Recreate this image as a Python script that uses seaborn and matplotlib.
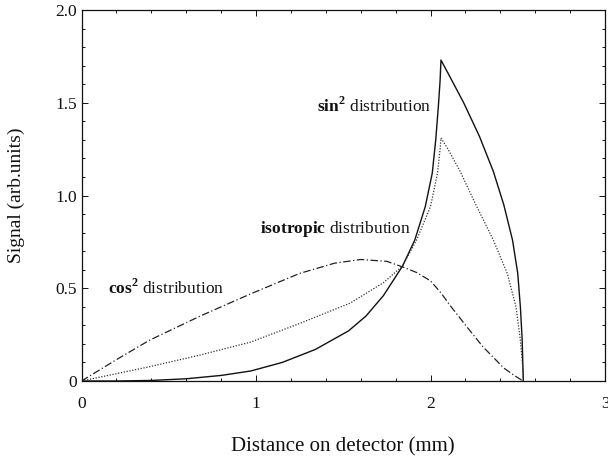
import matplotlib
matplotlib.use("Agg")
import matplotlib.pyplot as plt
import seaborn as sns
import pandas as pd
from matplotlib.ticker import MultipleLocator, FixedLocator, FixedFormatter

# ---- data ----
sin2_x = [0, 0.2, 0.4, 0.6, 0.8, 0.97, 1.15, 1.34, 1.53, 1.63, 1.73, 1.84, 1.91,
          1.97, 2.01, 2.03, 2.045, 2.055, 2.06, 2.10, 2.19, 2.28, 2.36, 2.42,
          2.47, 2.50, 2.515, 2.525, 2.53, 2.532]
sin2_y = [0, 0.0, 0.003, 0.012, 0.03, 0.054, 0.10, 0.17, 0.27, 0.35, 0.46, 0.62, 0.76,
          0.94, 1.12, 1.30, 1.48, 1.62, 1.73, 1.66, 1.50, 1.32, 1.13, 0.95,
          0.76, 0.58, 0.40, 0.23, 0.06, 0]

iso_x = [0, 0.39, 0.68, 0.97, 1.25, 1.54, 1.73, 1.84, 1.92, 2.0, 2.04, 2.055,
         2.06, 2.10, 2.17, 2.26, 2.36, 2.44, 2.49, 2.515, 2.53, 2.532]
iso_y = [0, 0.077, 0.14, 0.21, 0.31, 0.42, 0.53, 0.62, 0.76, 0.94, 1.12, 1.25,
         1.31, 1.25, 1.13, 0.95, 0.76, 0.58, 0.40, 0.22, 0.06, 0]

cos2_x = [0, 0.2, 0.39, 0.68, 0.97, 1.25, 1.45, 1.6, 1.75, 1.84, 1.92, 2.0, 2.06,
          2.11, 2.21, 2.30, 2.42, 2.48, 2.53]
cos2_y = [0, 0.115, 0.22, 0.35, 0.47, 0.58, 0.635, 0.655, 0.645, 0.615, 0.585, 0.54, 0.475,
          0.41, 0.29, 0.185, 0.07, 0.03, 0]

x_ticks = [0, 1, 2, 3]
x_tick_labels = ["0", "1", "2", "3"]
y_ticks = [0, 0.5, 1.0, 1.5, 2.0]
y_tick_labels = ["0", "0.5", "1.0", "1.5", "2.0"]

x_label = "Distance on detector (mm)"
y_label = "Signal (arb.units)"

# ---- style ----
sns.set_theme(style="ticks")
plt.rcParams["font.family"] = ["Liberation Serif", "DejaVu Serif"]
plt.rcParams["mathtext.fontset"] = "custom"
plt.rcParams["mathtext.rm"] = "Liberation Serif"
plt.rcParams["mathtext.bf"] = "Liberation Serif:bold"

fig = plt.figure(figsize=(6.08, 4.68), dpi=100)
ax = fig.add_axes([81.5 / 608, 87 / 468, (605 - 81.5) / 608, (381 - 10) / 468])

df_sin = pd.DataFrame({"x": sin2_x, "y": sin2_y})
df_iso = pd.DataFrame({"x": iso_x, "y": iso_y})
df_cos = pd.DataFrame({"x": cos2_x, "y": cos2_y})

sns.lineplot(data=df_sin, x="x", y="y", ax=ax, estimator=None, sort=False,
             color="#111111", lw=1.0)
sns.lineplot(data=df_iso, x="x", y="y", ax=ax, estimator=None, sort=False,
             color="#333333", lw=0.9, linestyle=(0, (1, 1.3)))
sns.lineplot(data=df_cos, x="x", y="y", ax=ax, estimator=None, sort=False,
             color="#222222", lw=0.9, linestyle=(0, (6, 2, 1, 2)))

ax.set_xlim(0, 3)
ax.set_ylim(0, 2.0)

ax.xaxis.set_major_locator(FixedLocator(x_ticks))
ax.xaxis.set_major_formatter(FixedFormatter(x_tick_labels))
ax.yaxis.set_major_locator(FixedLocator(y_ticks))
ax.yaxis.set_major_formatter(FixedFormatter(y_tick_labels))
ax.xaxis.set_minor_locator(MultipleLocator(0.2))
ax.yaxis.set_minor_locator(MultipleLocator(0.1))

ax.tick_params(which="both", direction="in", top=True, right=True,
               colors="#111111", width=0.7)
ax.tick_params(which="major", length=4, labelsize=12.5)
ax.tick_params(axis="x", which="major", pad=11)
ax.tick_params(axis="y", which="major", pad=3)
ax.tick_params(which="minor", length=2.5)
for s in ax.spines.values():
    s.set_linewidth(0.9)
    s.set_color("#111111")

ax.set_xlabel(x_label, fontsize=15, color="#111111")
ax.set_ylabel(y_label, fontsize=14, color="#111111")
ax.xaxis.set_label_coords(0.5, (381 - 447) / 371)
ax.xaxis.label.set_va("center")
ax.yaxis.set_label_coords((16 - 81.5) / 523.5, 0.5)
ax.yaxis.label.set_va("center")

ax.text(1.348, 1.452, r"$\mathbf{sin}^{\mathbf{2}}$ distribution", fontsize=12.5,
        va="baseline", ha="left", color="#111111")
ax.text(1.023, 0.796, r"$\mathbf{isotropic}$ distribution", fontsize=12.5,
        va="baseline", ha="left", color="#111111")
ax.text(0.154, 0.473, r"$\mathbf{cos}^{\mathbf{2}}$ distribution", fontsize=12.5,
        va="baseline", ha="left", color="#111111")

fig.savefig("out.png", dpi=100)
